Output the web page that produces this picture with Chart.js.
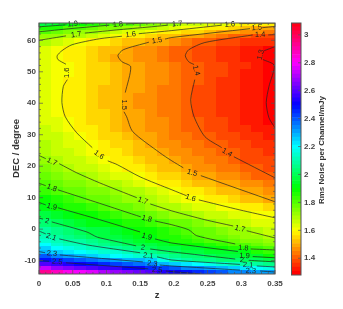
<!DOCTYPE html>
<html>
<head>
  <title>Rms noise map</title>
  <style>
html, body { margin: 0; padding: 0; background: #fff; }
#mapChart { position: absolute; left: 0; top: 0; }
#barChart { position: absolute; left: 285px; top: 0; }
  </style>
  <script src="https://cdn.jsdelivr.net/npm/chart.js@4"></script>
</head>
<body>
<canvas id="mapChart" width="290" height="309"></canvas>
<canvas id="barChart" width="58" height="309"></canvas>
<script type="text/javascript">
// cell centres of the map
var zCentres = [0.00875, 0.02625, 0.04375, 0.06125, 0.07875, 0.09625, 0.11375, 0.13125, 0.14875, 0.16625,
  0.18375, 0.20125, 0.21875, 0.23625, 0.25375, 0.27125, 0.28875, 0.30625, 0.32375, 0.34125];
var decCentres = [65.125, 63.875, 62.625, 61.375, 59.5, 57, 54.5, 52, 49.5, 47, 44.5, 42, 39.5, 37, 34.5, 32, 29.5, 27,
  24.5, 22, 19.5, 17, 14.5, 12, 9.5, 7, 4.5, 2, -0.5,
  -2.375, -3.625, -4.875, -6.125, -7.375, -8.625, -9.875, -11.125, -12.375, -13.625];
var decHeights = [1.25, 1.25, 1.25, 1.25, 2.5, 2.5, 2.5, 2.5, 2.5, 2.5, 2.5, 2.5, 2.5, 2.5, 2.5, 2.5, 2.5, 2.5,
  2.5, 2.5, 2.5, 2.5, 2.5, 2.5, 2.5, 2.5, 2.5, 2.5, 2.5,
  1.25, 1.25, 1.25, 1.25, 1.25, 1.25, 1.25, 1.25, 1.25, 1.25];
var zCellWidth = 0.0175;

// rms noise, one row per decCentres entry, one value per zCentres entry
var noiseRows = [
  [1.96,1.93,1.905,1.88,1.86,1.84,1.81,1.79,1.77,1.75,1.72,1.705,1.67,1.66,1.64,1.625,1.60,1.59,1.58,1.57],
  [1.87,1.85,1.81,1.79,1.77,1.75,1.735,1.715,1.695,1.68,1.66,1.64,1.615,1.595,1.58,1.565,1.55,1.53,1.50,1.48],
  [1.79,1.77,1.75,1.73,1.705,1.685,1.665,1.645,1.63,1.61,1.59,1.57,1.555,1.535,1.52,1.50,1.485,1.47,1.455,1.44],
  [1.73,1.715,1.695,1.675,1.65,1.63,1.61,1.59,1.57,1.55,1.53,1.515,1.50,1.48,1.46,1.44,1.42,1.40,1.39,1.38],
  [1.68,1.65,1.63,1.605,1.585,1.57,1.55,1.53,1.515,1.50,1.485,1.47,1.44,1.42,1.40,1.385,1.37,1.36,1.35,1.34],
  [1.63,1.605,1.59,1.57,1.55,1.53,1.51,1.49,1.475,1.46,1.44,1.42,1.40,1.385,1.37,1.36,1.345,1.33,1.31,1.295],
  [1.62,1.60,1.58,1.565,1.545,1.525,1.505,1.485,1.47,1.45,1.435,1.42,1.40,1.385,1.37,1.355,1.34,1.325,1.31,1.29],
  [1.635,1.615,1.595,1.58,1.56,1.54,1.525,1.505,1.485,1.47,1.45,1.435,1.41,1.395,1.38,1.365,1.35,1.34,1.325,1.305],
  [1.63,1.615,1.595,1.58,1.56,1.54,1.525,1.505,1.485,1.47,1.45,1.435,1.415,1.395,1.38,1.365,1.35,1.335,1.32,1.305],
  [1.63,1.61,1.59,1.57,1.555,1.535,1.52,1.50,1.485,1.465,1.45,1.43,1.41,1.395,1.38,1.36,1.35,1.33,1.32,1.30],
  [1.625,1.61,1.59,1.57,1.55,1.53,1.515,1.495,1.48,1.46,1.445,1.43,1.41,1.39,1.375,1.36,1.345,1.33,1.315,1.30],
  [1.625,1.605,1.59,1.57,1.55,1.53,1.51,1.495,1.475,1.46,1.44,1.425,1.405,1.39,1.375,1.36,1.345,1.33,1.315,1.295],
  [1.625,1.605,1.59,1.57,1.55,1.53,1.51,1.495,1.475,1.46,1.44,1.425,1.405,1.39,1.375,1.36,1.345,1.325,1.31,1.295],
  [1.63,1.61,1.59,1.575,1.555,1.535,1.515,1.495,1.48,1.46,1.445,1.425,1.41,1.39,1.375,1.36,1.345,1.33,1.315,1.30],
  [1.64,1.62,1.595,1.58,1.56,1.54,1.52,1.50,1.485,1.465,1.45,1.43,1.415,1.395,1.38,1.365,1.35,1.335,1.32,1.305],
  [1.65,1.63,1.605,1.585,1.565,1.545,1.525,1.505,1.49,1.47,1.455,1.435,1.42,1.40,1.385,1.37,1.36,1.345,1.33,1.315],
  [1.67,1.65,1.625,1.60,1.58,1.56,1.54,1.52,1.495,1.48,1.46,1.445,1.43,1.41,1.395,1.38,1.37,1.355,1.345,1.33],
  [1.685,1.665,1.64,1.62,1.60,1.58,1.56,1.535,1.515,1.49,1.475,1.46,1.445,1.43,1.41,1.395,1.38,1.37,1.36,1.345],
  [1.69,1.67,1.65,1.635,1.615,1.59,1.57,1.55,1.53,1.51,1.49,1.475,1.46,1.445,1.43,1.41,1.395,1.385,1.37,1.36],
  [1.71,1.685,1.665,1.65,1.63,1.605,1.585,1.565,1.55,1.53,1.51,1.49,1.475,1.46,1.44,1.425,1.41,1.39,1.38,1.365],
  [1.74,1.72,1.69,1.67,1.65,1.63,1.61,1.585,1.565,1.55,1.53,1.515,1.495,1.475,1.46,1.445,1.43,1.41,1.395,1.38],
  [1.76,1.74,1.72,1.705,1.68,1.66,1.64,1.62,1.60,1.58,1.56,1.54,1.52,1.50,1.48,1.465,1.45,1.43,1.415,1.40],
  [1.795,1.775,1.755,1.735,1.715,1.695,1.675,1.655,1.63,1.61,1.585,1.565,1.545,1.53,1.515,1.50,1.485,1.47,1.46,1.445],
  [1.83,1.81,1.785,1.77,1.75,1.735,1.715,1.695,1.675,1.65,1.625,1.60,1.585,1.565,1.55,1.53,1.515,1.495,1.48,1.465],
  [1.875,1.85,1.825,1.80,1.78,1.76,1.74,1.72,1.705,1.68,1.66,1.635,1.615,1.60,1.58,1.565,1.55,1.53,1.515,1.50],
  [1.91,1.89,1.87,1.85,1.83,1.80,1.78,1.76,1.745,1.72,1.695,1.68,1.66,1.645,1.63,1.61,1.595,1.58,1.565,1.55],
  [1.97,1.945,1.92,1.90,1.875,1.85,1.825,1.805,1.79,1.77,1.75,1.725,1.705,1.685,1.67,1.655,1.64,1.62,1.61,1.595],
  [2.02,1.99,1.965,1.945,1.925,1.905,1.885,1.87,1.85,1.83,1.81,1.785,1.76,1.74,1.72,1.695,1.68,1.665,1.645,1.63],
  [2.09,2.065,2.03,2.005,1.98,1.96,1.94,1.915,1.895,1.875,1.855,1.835,1.81,1.78,1.76,1.745,1.725,1.705,1.685,1.67],
  [2.12,2.09,2.06,2.03,2.01,1.98,1.96,1.94,1.925,1.905,1.87,1.85,1.82,1.805,1.78,1.76,1.74,1.725,1.71,1.70],
  [2.14,2.115,2.095,2.07,2.05,2.02,1.99,1.97,1.95,1.925,1.905,1.87,1.85,1.83,1.815,1.795,1.775,1.755,1.74,1.72],
  [2.19,2.15,2.12,2.105,2.08,2.05,2.03,2.005,1.98,1.96,1.93,1.91,1.90,1.875,1.86,1.83,1.81,1.79,1.77,1.75],
  [2.25,2.20,2.17,2.14,2.12,2.105,2.08,2.05,2.02,2.00,1.98,1.96,1.94,1.93,1.91,1.90,1.87,1.85,1.825,1.79],
  [2.29,2.26,2.23,2.20,2.17,2.15,2.13,2.11,2.09,2.06,2.03,2.00,1.98,1.97,1.95,1.94,1.93,1.905,1.87,1.84],
  [2.38,2.34,2.32,2.29,2.26,2.23,2.20,2.16,2.13,2.11,2.08,2.06,2.04,2.02,2.00,1.98,1.97,1.955,1.93,1.89],
  [2.47,2.44,2.42,2.39,2.36,2.33,2.31,2.29,2.27,2.24,2.17,2.10,2.08,2.06,2.05,2.03,2.02,2.00,1.99,1.98],
  [2.58,2.56,2.53,2.51,2.49,2.46,2.43,2.40,2.37,2.33,2.29,2.26,2.23,2.20,2.17,2.14,2.11,2.095,2.07,2.05],
  [2.72,2.68,2.65,2.62,2.60,2.57,2.55,2.52,2.50,2.46,2.42,2.38,2.35,2.33,2.30,2.27,2.25,2.22,2.19,2.17],
  [2.92,2.87,2.83,2.79,2.75,2.71,2.68,2.65,2.62,2.58,2.54,2.51,2.47,2.44,2.41,2.38,2.35,2.33,2.32,2.30]
];

// contour lines as [z, dec] pieces, broken where a label sits
var contour19 = [[[0,64.3],[0.039,64.9]], [[0.062,65.4],[0.08,65.55]]];
var contour18 = [[[0,62.7],[0.046,63.7],[0.104,64.8]], [[0.13,65.2],[0.165,65.55]]];
var contour17Top = [[[0,60],[0.04,61.4]], [[0.068,62.3],[0.12,63.4],[0.172,64.4],[0.191,64.8]], [[0.219,65.4],[0.227,65.55]]];
var contour16 = [
  [[0.35,65.5],[0.297,65.3]],
  [[0.271,64.8],[0.197,63.1],[0.148,62.1]],
  [[0.123,61.3],[0.09,60.5],[0.049,58.6],[0.034,56.7],[0.027,55.1],[0.028,53.9],[0.04,52.4]],
  [[0.042,47.5],[0.036,45.3],[0.034,40.2],[0.039,35.7],[0.056,30.6],[0.079,25.9]],
  [[0.102,21.7],[0.116,20.5],[0.15,16.6],[0.197,12.5],[0.219,10.6]],
  [[0.237,9.3],[0.298,6.1],[0.35,3.6]]
];
var contour15 = [
  [[0.35,64.4],[0.331,64]],
  [[0.313,63.7],[0.197,60.9],[0.187,60.4]],
  [[0.163,59.4],[0.125,57],[0.117,55.1],[0.123,53.2],[0.136,51.6],[0.128,43.4]],
  [[0.126,37.3],[0.13,35.7],[0.139,31],[0.179,24.3],[0.197,21.7],[0.214,19.5]],
  [[0.24,17],[0.35,8.7]]
];
var contour14 = [
  [[0.35,61.8],[0.34,61.7]],
  [[0.317,61.7],[0.246,59.3],[0.222,57],[0.217,55.1],[0.222,53.2],[0.23,52.3]],
  [[0.231,47.5],[0.225,41.1],[0.23,35.7],[0.246,29.4],[0.271,25.9]],
  [[0.289,23],[0.35,16.3]]
];
var contour13 = [
  [[0.35,58],[0.334,56.7]],
  [[0.332,53.9],[0.349,52],[0.341,45.3],[0.337,40.2],[0.341,35.4],[0.35,32.2]]
];
var contour17Low = [
  [[0,23.4],[0.01,22.4]],
  [[0.03,20.8],[0.056,17.9],[0.09,14.7],[0.145,10]],
  [[0.165,8],[0.197,5.8],[0.246,3],[0.288,1]],
  [[0.308,-0.5],[0.35,-2.8]]
];
var contour18Low = [
  [[0,14.6],[0.01,13.8]],
  [[0.028,12.5],[0.09,8.2],[0.151,3.9]],
  [[0.172,2.6],[0.197,1.4],[0.222,-0.2],[0.234,-2.1],[0.291,-4.7]],
  [[0.314,-6.3],[0.35,-6.6]]
];
var contour19Low = [
  [[0,8.5],[0.01,7.7]],
  [[0.028,6.8],[0.09,3],[0.15,-0.9]],
  [[0.172,-3.1],[0.197,-4.4],[0.295,-7.1]],
  [[0.317,-8.7],[0.35,-9.1]]
];
var contour20 = [
  [[0,3.5],[0.006,3.2]],
  [[0.019,2.3],[0.071,-0.9],[0.086,-2.5],[0.11,-3.7],[0.144,-5.3]],
  [[0.165,-6.3],[0.197,-7.2],[0.291,-9.5]],
  [[0.311,-9.9],[0.35,-10.4]]
];
var contour21 = [
  [[0,-0.6],[0.01,-1.5]],
  [[0.03,-3.1],[0.071,-5],[0.15,-7.5]],
  [[0.175,-8.8],[0.197,-9.8],[0.298,-11.2]],
  [[0.323,-11.7],[0.35,-12]]
];
var contour23 = [
  [[0,-7.1],[0.009,-7.5]],
  [[0.031,-8.2],[0.154,-10.4]],
  [[0.179,-11.4],[0.197,-11.7],[0.298,-13]],
  [[0.328,-13.3],[0.35,-13.6]]
];
var contour25 = [
  [[0,-10],[0.015,-10.2]],
  [[0.04,-10.7],[0.162,-12.6]],
  [[0.188,-13.3],[0.239,-14.25]]
];
var allContours = [contour19, contour18, contour17Top, contour16, contour15, contour14, contour13,
  contour17Low, contour18Low, contour19Low, contour20, contour21, contour23, contour25];

// contour labels
var labelText = ['1.9','1.8','1.7','1.6','1.5','1.7','1.6','1.5','1.4','1.3','1.4','1.6','1.5','1.6','1.4','1.5','1.6',
  '1.7','1.8','1.9','2','2.1','2.3','2.5','1.7','1.8','1.9','2','2.1','2.3','2.5','1.7','1.8','1.9','2','2.1','2.3'];
var labelZ = [0.05,0.117,0.055,0.136,0.175,0.205,0.283,0.323,0.328,0.329,0.233,0.042,0.126,0.089,0.279,0.227,0.225,
  0.019,0.019,0.019,0.012,0.018,0.019,0.027,0.154,0.16,0.16,0.154,0.162,0.168,0.175,0.298,0.303,0.305,0.301,0.31,0.314];
var labelDec = [65.2,65,61.8,61.8,59.9,65.2,65,64,61.8,55.4,50.4,49.7,39.5,23.6,24.3,17.9,9.9,
  21.4,13.1,7.1,2.6,-2.5,-7.8,-10.4,9,3.3,-2.4,-5.9,-8.5,-11,-13,0.1,-6,-8.5,-9.8,-11.4,-13.3];
var labelAngle = [-5,-5,-8,-6,-10,-6,-5,-5,-2,-75,75,-90,90,35,30,18,18,
  25,20,15,15,20,5,5,20,15,15,8,8,5,3,15,3,3,3,3,3];

// colour bar
var barMin = 1.28;
var barMax = 3.085;
var barLevels = 64;

var tickFont = { family: '"Liberation Sans", Arial, sans-serif', size: 8, weight: 'bold' };
var tickColor = '#444';
var frameColor = '#555';

function levelColor(level) {
  return 'hsl(' + (level / barLevels * 360) + ',100%,50%)';
}

function noiseColor(v) {
  var level = Math.floor((v - barMin) / (barMax - barMin) * barLevels);
  level = Math.max(0, Math.min(barLevels - 1, level));
  return levelColor(level);
}

var contourDatasets = [];
allContours.forEach(function(contour) {
  contour.forEach(function(piece) {
    contourDatasets.push({
      data: piece.map(function(p) { return { x: p[0], y: p[1] }; }),
      showLine: true,
      pointRadius: 0,
      borderColor: '#222',
      borderWidth: 0.7,
      tension: 0.25
    });
  });
});

// paints the grid cells under the contour lines
var heatmapPlugin = {
  id: 'heatmap',
  beforeDatasetsDraw: function(chart) {
    var ctx = chart.ctx, a = chart.chartArea, xs = chart.scales.x, ys = chart.scales.y;
    ctx.save();
    ctx.beginPath();
    ctx.rect(a.left, a.top, a.right - a.left, a.bottom - a.top);
    ctx.clip();
    noiseRows.forEach(function(row, i) {
      var y0 = Math.round(ys.getPixelForValue(decCentres[i] + decHeights[i] / 2));
      var y1 = Math.round(ys.getPixelForValue(decCentres[i] - decHeights[i] / 2));
      row.forEach(function(v, j) {
        var x0 = Math.round(xs.getPixelForValue(zCentres[j] - zCellWidth / 2));
        var x1 = Math.round(xs.getPixelForValue(zCentres[j] + zCellWidth / 2));
        ctx.fillStyle = noiseColor(v);
        ctx.fillRect(x0, y0, x1 - x0, y1 - y0);
      });
    });
    ctx.restore();
  }
};

// contour labels, inward ticks and the frame
var overlayPlugin = {
  id: 'overlay',
  afterDatasetsDraw: function(chart) {
    var ctx = chart.ctx, a = chart.chartArea, xs = chart.scales.x, ys = chart.scales.y;
    ctx.save();
    ctx.font = '7.5px "Liberation Sans", Arial, sans-serif';
    ctx.fillStyle = '#222';
    ctx.textAlign = 'center';
    ctx.textBaseline = 'middle';
    labelText.forEach(function(text, i) {
      ctx.save();
      ctx.translate(xs.getPixelForValue(labelZ[i]), ys.getPixelForValue(labelDec[i]));
      ctx.rotate(labelAngle[i] * Math.PI / 180);
      ctx.fillText(text, 0, 0);
      ctx.restore();
    });

    ctx.strokeStyle = frameColor;
    ctx.lineWidth = 0.7;
    ctx.beginPath();
    var v, px, len;
    for (v = 0; v <= 35; v++) {
      px = xs.getPixelForValue(v / 100);
      len = v % 5 === 0 ? 4 : 2;
      ctx.moveTo(px, a.bottom); ctx.lineTo(px, a.bottom - len);
      ctx.moveTo(px, a.top); ctx.lineTo(px, a.top + len);
    }
    for (v = -14; v <= 64; v += 2) {
      px = ys.getPixelForValue(v);
      len = v % 10 === 0 ? 4 : 2;
      ctx.moveTo(a.left, px); ctx.lineTo(a.left + len, px);
      ctx.moveTo(a.right, px); ctx.lineTo(a.right - len, px);
    }
    ctx.stroke();

    ctx.lineWidth = 1;
    ctx.strokeRect(a.left, a.top, a.right - a.left, a.bottom - a.top);
    ctx.restore();
  }
};

new Chart(document.getElementById('mapChart').getContext('2d'), {
  type: 'scatter',
  data: { datasets: contourDatasets },
  plugins: [heatmapPlugin, overlayPlugin],
  options: {
    responsive: false,
    animation: false,
    layout: { padding: { top: 23, right: 15 } },
    plugins: { legend: { display: false }, tooltip: { enabled: false } },
    scales: {
      x: {
        type: 'linear', min: 0, max: 0.35,
        afterFit: function(scale) { scale.height = 35; },
        grid: { display: false, drawTicks: false }, border: { display: false },
        ticks: {
          stepSize: 0.05, padding: 5, maxRotation: 0, font: tickFont, color: tickColor,
          callback: function(v) { return +v.toFixed(2); }
        },
        title: { display: true, text: 'z', color: '#333', padding: { bottom: 8 },
          font: { family: tickFont.family, size: 9.5, weight: 'bold' } }
      },
      y: {
        type: 'linear', min: -14.25, max: 65.5,
        afterFit: function(scale) { scale.width = 39; },
        grid: { display: false, drawTicks: false }, border: { display: false },
        ticks: { stepSize: 10, padding: 3, includeBounds: false, font: tickFont, color: tickColor },
        title: { display: true, text: 'DEC / degree', color: '#333', padding: { top: 11 },
          font: { family: tickFont.family, size: 9.5, weight: 'bold' } }
      }
    }
  }
});

// colour bar: one floating bar per colour level
var barDatasets = [];
for (var k = 0; k < barLevels; k++) {
  var step = (barMax - barMin) / barLevels;
  barDatasets.push({
    data: [[barMin + k * step, barMin + (k + 1) * step]],
    backgroundColor: levelColor(k),
    borderWidth: 0,
    grouped: false,
    barPercentage: 1,
    categoryPercentage: 1
  });
}

var barOverlayPlugin = {
  id: 'barOverlay',
  afterDatasetsDraw: function(chart) {
    var ctx = chart.ctx, a = chart.chartArea, ys = chart.scales.y;
    ctx.save();
    ctx.strokeStyle = frameColor;
    ctx.lineWidth = 0.7;
    ctx.beginPath();
    ys.ticks.forEach(function(t) {
      var py = ys.getPixelForValue(t.value);
      ctx.moveTo(a.right, py); ctx.lineTo(a.right - 3, py);
    });
    ctx.stroke();
    ctx.lineWidth = 1;
    ctx.strokeRect(a.left, a.top, a.right - a.left, a.bottom - a.top);
    // bar title reads bottom to top, on the far side of the tick labels
    ctx.translate(37, (a.top + a.bottom) / 2 + 1);
    ctx.rotate(-Math.PI / 2);
    ctx.font = 'bold 8px "Liberation Sans", Arial, sans-serif';
    ctx.fillStyle = '#333';
    ctx.textAlign = 'center';
    ctx.textBaseline = 'middle';
    ctx.fillText('Rms Noise per Channel/mJy', 0, 0);
    ctx.restore();
  }
};

new Chart(document.getElementById('barChart').getContext('2d'), {
  type: 'bar',
  data: { labels: [''], datasets: barDatasets },
  plugins: [barOverlayPlugin],
  options: {
    responsive: false,
    animation: false,
    layout: { padding: { top: 23, left: 6.5 } },
    plugins: { legend: { display: false }, tooltip: { enabled: false } },
    scales: {
      x: {
        display: true,
        afterFit: function(scale) { scale.height = 34; },
        grid: { display: false, drawTicks: false }, border: { display: false },
        ticks: { display: false }
      },
      y: {
        position: 'right', min: barMin, max: barMax,
        afterFit: function(scale) { scale.width = 42; },
        grid: { display: false, drawTicks: false }, border: { display: false },
        ticks: {
          stepSize: 0.2, padding: 3, includeBounds: false, font: tickFont, color: tickColor,
          callback: function(v) { return +v.toFixed(1); }
        }
      }
    }
  }
});
</script>
</body>
</html>
